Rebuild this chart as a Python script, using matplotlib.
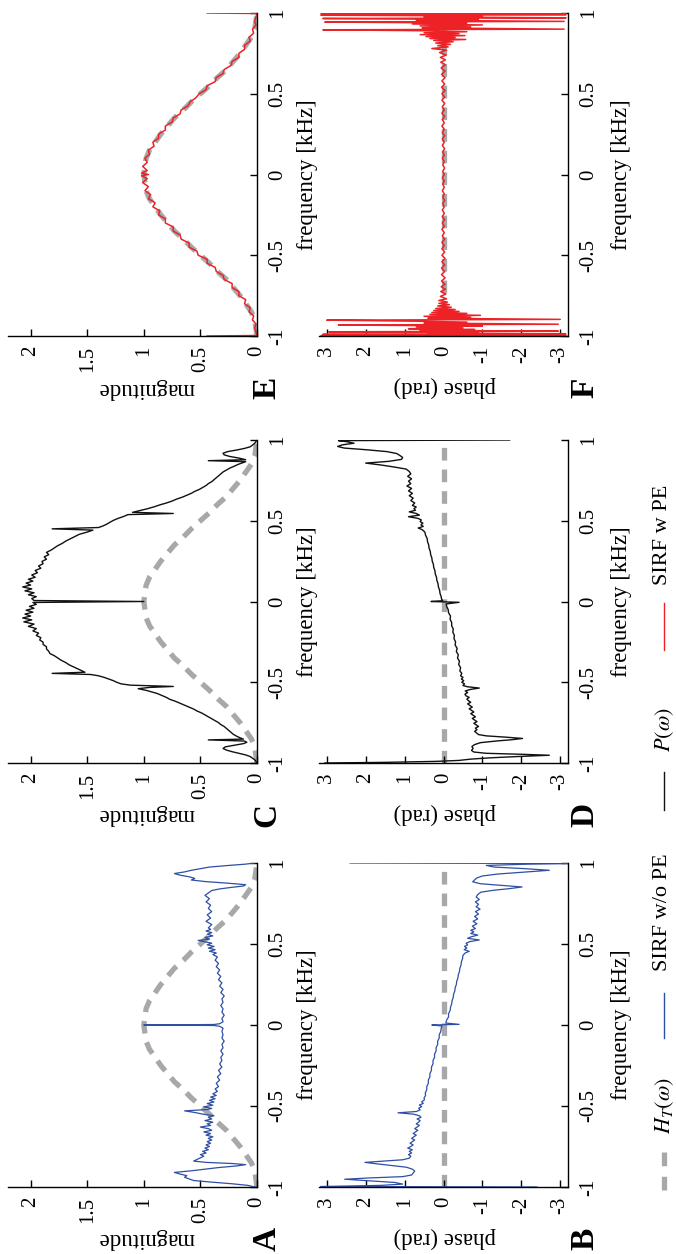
import matplotlib

matplotlib.use("Agg")
import matplotlib.pyplot as plt
from matplotlib.lines import Line2D

# -->> Data <<-------------------------

FREQ_TICKS = [-1, -0.5, 0, 0.5, 1]
FREQ_LABELS = ["-1", "-0.5", "0", "0.5", "1"]
MAG_TICKS = [0, 0.5, 1, 1.5, 2]
MAG_LABELS = ["0", "0.5", "1", "1.5", "2"]
PHASE_TICKS = [-3, -2, -1, 0, 1, 2, 3]
PHASE_LABELS = ["-3", "-2", "-1", "0", "1", "2", "3"]

# target response H_T(w), magnitude
HT_FREQ = [-1.0, -0.95, -0.9, -0.85, -0.8, -0.75, -0.7, -0.65, -0.6, -0.55, -0.5,
           -0.45, -0.4, -0.35, -0.3, -0.25, -0.2, -0.15, -0.1, -0.05, 0.0,
           0.05, 0.1, 0.15, 0.2, 0.25, 0.3, 0.35, 0.4, 0.45, 0.5,
           0.55, 0.6, 0.65, 0.7, 0.75, 0.8, 0.85, 0.9, 0.95, 1.0]
HT_MAG = [0.0, 0.01, 0.02, 0.05, 0.1, 0.15, 0.21, 0.27, 0.35, 0.42, 0.5,
          0.58, 0.65, 0.73, 0.79, 0.85, 0.9, 0.95, 0.98, 0.99, 1.0,
          0.99, 0.98, 0.95, 0.9, 0.85, 0.79, 0.73, 0.65, 0.58, 0.5,
          0.42, 0.35, 0.27, 0.21, 0.15, 0.1, 0.05, 0.02, 0.01, 0.0]
HT_PHASE_FREQ = [-1.0, 1.0]
HT_PHASE = [0.0, 0.0]

# (frequency, magnitude) of SIRF without phase estimation -- panel A
A_PTS = [
    (-1.000, 0.02), (-0.990, 0.08), (-0.980, 0.22), (-0.970, 0.40), (-0.960, 0.56),
    (-0.950, 0.60), (-0.940, 0.64), (-0.930, 0.62), (-0.920, 0.68), (-0.910, 0.73),
    (-0.900, 0.58), (-0.890, 0.46), (-0.880, 0.34), (-0.870, 0.18), (-0.862, 0.10),
    (-0.855, 0.22), (-0.848, 0.45), (-0.840, 0.56), (-0.830, 0.53), (-0.820, 0.50),
    (-0.810, 0.47), (-0.800, 0.50), (-0.790, 0.45), (-0.780, 0.48), (-0.770, 0.43),
    (-0.760, 0.46), (-0.750, 0.42), (-0.740, 0.45), (-0.730, 0.41), (-0.720, 0.44),
    (-0.710, 0.40), (-0.700, 0.43), (-0.690, 0.39), (-0.680, 0.45), (-0.670, 0.41),
    (-0.660, 0.47), (-0.650, 0.40), (-0.640, 0.43), (-0.630, 0.50), (-0.620, 0.41),
    (-0.610, 0.44), (-0.600, 0.39), (-0.590, 0.46), (-0.580, 0.40), (-0.570, 0.43),
    (-0.560, 0.38), (-0.550, 0.48), (-0.540, 0.55), (-0.530, 0.64), (-0.522, 0.44),
    (-0.515, 0.40), (-0.505, 0.47), (-0.495, 0.39), (-0.485, 0.44), (-0.475, 0.38),
    (-0.465, 0.42), (-0.455, 0.37), (-0.445, 0.41), (-0.435, 0.36), (-0.425, 0.39),
    (-0.410, 0.35), (-0.395, 0.37), (-0.380, 0.34), (-0.360, 0.36), (-0.340, 0.33),
    (-0.320, 0.35), (-0.300, 0.32), (-0.280, 0.34), (-0.260, 0.31), (-0.240, 0.33),
    (-0.220, 0.31), (-0.200, 0.32), (-0.180, 0.30), (-0.160, 0.32), (-0.140, 0.30),
    (-0.120, 0.31), (-0.100, 0.29), (-0.080, 0.31), (-0.060, 0.30), (-0.040, 0.31),
    (-0.020, 0.30), (-0.008, 0.33), (-0.003, 0.38), (0.000, 1.00), (0.003, 0.38),
    (0.008, 0.33), (0.020, 0.30), (0.040, 0.31), (0.060, 0.29), (0.080, 0.31),
    (0.100, 0.30), (0.120, 0.32), (0.140, 0.30), (0.160, 0.31), (0.180, 0.29),
    (0.200, 0.32), (0.220, 0.30), (0.240, 0.33), (0.260, 0.31), (0.280, 0.34),
    (0.300, 0.32), (0.320, 0.35), (0.340, 0.33), (0.360, 0.36), (0.380, 0.34),
    (0.400, 0.37), (0.420, 0.35), (0.435, 0.39), (0.445, 0.36), (0.455, 0.42),
    (0.465, 0.37), (0.475, 0.43), (0.485, 0.38), (0.495, 0.44), (0.505, 0.40),
    (0.515, 0.47), (0.522, 0.52), (0.530, 0.42), (0.540, 0.46), (0.550, 0.39),
    (0.560, 0.44), (0.570, 0.40), (0.580, 0.45), (0.590, 0.41), (0.600, 0.43),
    (0.620, 0.40), (0.640, 0.45), (0.660, 0.41), (0.680, 0.44), (0.700, 0.40),
    (0.720, 0.43), (0.740, 0.41), (0.760, 0.45), (0.780, 0.42), (0.800, 0.46),
    (0.815, 0.43), (0.830, 0.40), (0.840, 0.33), (0.850, 0.22), (0.858, 0.12),
    (0.866, 0.10), (0.875, 0.25), (0.885, 0.45), (0.895, 0.58), (0.905, 0.55),
    (0.915, 0.60), (0.925, 0.68), (0.935, 0.73), (0.945, 0.64), (0.955, 0.58),
    (0.965, 0.50), (0.975, 0.42), (0.985, 0.25), (0.993, 0.10), (1.000, 0.02),
]

# (frequency, magnitude) of P(w) -- panel C
C_PTS = [
    (-1.000, 0.00), (-0.990, 0.01), (-0.980, 0.02), (-0.970, 0.04), (-0.960, 0.06),
    (-0.950, 0.10), (-0.940, 0.16), (-0.930, 0.22), (-0.920, 0.27), (-0.910, 0.30),
    (-0.900, 0.28), (-0.890, 0.20), (-0.880, 0.12), (-0.872, 0.09), (-0.864, 0.11),
    (-0.857, 0.43), (-0.852, 0.12), (-0.844, 0.15), (-0.834, 0.18), (-0.822, 0.21),
    (-0.810, 0.23), (-0.798, 0.25), (-0.786, 0.27), (-0.774, 0.29), (-0.762, 0.32),
    (-0.750, 0.34), (-0.738, 0.37), (-0.726, 0.40), (-0.714, 0.43), (-0.702, 0.46),
    (-0.690, 0.49), (-0.678, 0.53), (-0.666, 0.56), (-0.654, 0.60), (-0.642, 0.64),
    (-0.630, 0.68), (-0.618, 0.72), (-0.606, 0.77), (-0.594, 0.80), (-0.582, 0.84),
    (-0.570, 0.88), (-0.560, 0.93), (-0.550, 0.98), (-0.540, 1.05), (-0.532, 0.95),
    (-0.526, 0.74), (-0.518, 1.12), (-0.510, 1.20), (-0.500, 1.24), (-0.490, 1.27),
    (-0.480, 1.31), (-0.470, 1.35), (-0.460, 1.40), (-0.452, 1.47), (-0.445, 1.81),
    (-0.438, 1.52), (-0.428, 1.55), (-0.418, 1.58), (-0.405, 1.62), (-0.392, 1.66),
    (-0.378, 1.69), (-0.364, 1.73), (-0.350, 1.76), (-0.336, 1.79), (-0.322, 1.83),
    (-0.308, 1.84), (-0.294, 1.86), (-0.280, 1.86), (-0.266, 1.89), (-0.252, 1.89),
    (-0.238, 1.92), (-0.224, 1.91), (-0.210, 1.95), (-0.196, 1.93), (-0.182, 1.98),
    (-0.168, 1.95), (-0.154, 2.02), (-0.140, 1.97), (-0.126, 2.06), (-0.114, 1.99),
    (-0.102, 2.07), (-0.090, 2.00), (-0.078, 2.05), (-0.066, 1.98), (-0.054, 2.04),
    (-0.042, 1.97), (-0.030, 2.01), (-0.018, 1.95), (-0.006, 1.98), (0.000, 1.00),
    (0.006, 1.97), (0.018, 1.99), (0.030, 1.95), (0.042, 2.02), (0.054, 1.97),
    (0.066, 2.05), (0.078, 1.99), (0.090, 2.07), (0.102, 2.00), (0.114, 2.04),
    (0.126, 1.98), (0.138, 2.02), (0.150, 1.96), (0.164, 1.99), (0.178, 1.94),
    (0.192, 1.96), (0.206, 1.91), (0.220, 1.93), (0.234, 1.89), (0.248, 1.90),
    (0.262, 1.86), (0.276, 1.88), (0.290, 1.84), (0.304, 1.86), (0.318, 1.82),
    (0.332, 1.79), (0.346, 1.76), (0.360, 1.72), (0.374, 1.69), (0.388, 1.65),
    (0.402, 1.61), (0.416, 1.57), (0.430, 1.50), (0.442, 1.45), (0.450, 1.81),
    (0.458, 1.40), (0.468, 1.36), (0.478, 1.33), (0.490, 1.30), (0.502, 1.27),
    (0.514, 1.23), (0.526, 1.18), (0.538, 1.14), (0.545, 0.74), (0.552, 1.10),
    (0.562, 1.04), (0.574, 0.97), (0.586, 0.91), (0.598, 0.86), (0.610, 0.80),
    (0.622, 0.75), (0.634, 0.71), (0.646, 0.66), (0.658, 0.62), (0.670, 0.58),
    (0.682, 0.55), (0.694, 0.51), (0.706, 0.48), (0.718, 0.45), (0.730, 0.43),
    (0.742, 0.40), (0.754, 0.38), (0.766, 0.36), (0.778, 0.34), (0.790, 0.32),
    (0.802, 0.30), (0.814, 0.27), (0.826, 0.24), (0.838, 0.20), (0.848, 0.17),
    (0.858, 0.13), (0.866, 0.10), (0.872, 0.43), (0.878, 0.10), (0.888, 0.16),
    (0.898, 0.24), (0.908, 0.29), (0.918, 0.30), (0.928, 0.26), (0.938, 0.18),
    (0.948, 0.11), (0.958, 0.06), (0.968, 0.04), (0.980, 0.02), (0.990, 0.01),
    (1.000, 0.00),
]

# (frequency, magnitude) of SIRF with phase estimation -- panel E
E_PTS = [
    (-1.000, 0.44), (-0.997, 0.00), (-0.975, 0.01), (-0.950, 0.02), (-0.925, 0.01),
    (-0.900, 0.04), (-0.875, 0.03), (-0.850, 0.07), (-0.825, 0.06), (-0.800, 0.11),
    (-0.775, 0.10), (-0.750, 0.16), (-0.725, 0.16), (-0.700, 0.22), (-0.675, 0.22),
    (-0.650, 0.29), (-0.625, 0.30), (-0.600, 0.36), (-0.575, 0.37), (-0.550, 0.44),
    (-0.525, 0.44), (-0.500, 0.52), (-0.475, 0.53), (-0.450, 0.60), (-0.425, 0.60),
    (-0.400, 0.67), (-0.375, 0.68), (-0.350, 0.74), (-0.325, 0.74), (-0.300, 0.81),
    (-0.275, 0.81), (-0.250, 0.87), (-0.225, 0.86), (-0.200, 0.92), (-0.175, 0.90),
    (-0.150, 0.96), (-0.125, 0.94), (-0.100, 0.99), (-0.075, 0.96), (-0.050, 1.01),
    (-0.025, 0.97), (-0.008, 1.02), (0.000, 0.96), (0.008, 1.02), (0.025, 0.97),
    (0.050, 1.01), (0.075, 0.97), (0.100, 0.99), (0.125, 0.95), (0.150, 0.96),
    (0.175, 0.91), (0.200, 0.92), (0.225, 0.87), (0.250, 0.87), (0.275, 0.81),
    (0.300, 0.81), (0.325, 0.75), (0.350, 0.74), (0.375, 0.68), (0.400, 0.67),
    (0.425, 0.61), (0.450, 0.59), (0.475, 0.54), (0.500, 0.51), (0.525, 0.45),
    (0.550, 0.44), (0.575, 0.37), (0.600, 0.36), (0.625, 0.30), (0.650, 0.29),
    (0.675, 0.23), (0.700, 0.22), (0.725, 0.16), (0.750, 0.16), (0.775, 0.11),
    (0.800, 0.11), (0.825, 0.06), (0.850, 0.07), (0.875, 0.03), (0.900, 0.04),
    (0.925, 0.01), (0.950, 0.02), (0.975, 0.01), (0.997, 0.00), (1.000, 0.44),
]

# (frequency, phase) of SIRF without phase estimation -- panel B
B_PTS = [
    (-1.000, -2.40), (-0.997, 3.16), (-0.990, 1.60), (-0.982, 1.05), (-0.972, 1.25),
    (-0.962, 1.90), (-0.952, 2.54), (-0.944, 1.90), (-0.936, 1.05), (-0.926, 0.82),
    (-0.914, 0.78), (-0.902, 0.74), (-0.890, 0.80), (-0.878, 0.95), (-0.866, 1.40),
    (-0.856, 1.75), (-0.848, 2.02), (-0.840, 1.55), (-0.832, 1.05), (-0.822, 0.88),
    (-0.810, 0.84), (-0.800, 0.90), (-0.790, 0.82), (-0.780, 0.88), (-0.770, 0.80),
    (-0.760, 0.92), (-0.750, 0.84), (-0.740, 0.78), (-0.730, 0.86), (-0.720, 0.80),
    (-0.710, 0.74), (-0.700, 0.82), (-0.690, 0.76), (-0.680, 0.70), (-0.670, 0.78),
    (-0.660, 0.72), (-0.650, 0.66), (-0.640, 0.74), (-0.630, 0.68), (-0.620, 0.62),
    (-0.610, 0.70), (-0.600, 0.64), (-0.590, 0.60), (-0.580, 0.68), (-0.570, 0.58),
    (-0.560, 0.62), (-0.550, 0.78), (-0.542, 1.17), (-0.534, 0.70), (-0.524, 0.60),
    (-0.514, 0.64), (-0.504, 0.56), (-0.494, 0.62), (-0.484, 0.52), (-0.474, 0.56),
    (-0.462, 0.49), (-0.450, 0.50), (-0.435, 0.46), (-0.420, 0.47), (-0.400, 0.43),
    (-0.380, 0.43), (-0.360, 0.39), (-0.340, 0.39), (-0.320, 0.35), (-0.300, 0.35),
    (-0.280, 0.31), (-0.260, 0.31), (-0.240, 0.27), (-0.220, 0.27), (-0.200, 0.23),
    (-0.180, 0.23), (-0.160, 0.19), (-0.140, 0.19), (-0.120, 0.15), (-0.100, 0.15),
    (-0.080, 0.11), (-0.060, 0.11), (-0.040, 0.07), (-0.020, 0.06), (-0.006, 0.04),
    (0.000, 0.30), (0.004, -0.40), (0.012, -0.06), (0.030, -0.08), (0.050, -0.13),
    (0.070, -0.13), (0.090, -0.17), (0.110, -0.18), (0.130, -0.21), (0.150, -0.22),
    (0.170, -0.25), (0.190, -0.26), (0.210, -0.29), (0.230, -0.30), (0.250, -0.33),
    (0.270, -0.34), (0.290, -0.37), (0.310, -0.38), (0.330, -0.41), (0.350, -0.42),
    (0.370, -0.45), (0.390, -0.46), (0.410, -0.49), (0.430, -0.50), (0.445, -0.56),
    (0.455, -0.66), (0.465, -0.53), (0.475, -0.60), (0.485, -0.54), (0.495, -0.62),
    (0.505, -0.58), (0.515, -0.68), (0.525, -0.92), (0.535, -0.62), (0.545, -0.72),
    (0.555, -0.88), (0.565, -0.70), (0.575, -0.78), (0.585, -0.70), (0.595, -0.82),
    (0.610, -0.74), (0.625, -0.86), (0.640, -0.76), (0.655, -0.88), (0.670, -0.80),
    (0.685, -0.90), (0.700, -0.82), (0.715, -0.94), (0.730, -0.84), (0.745, -0.90),
    (0.760, -0.82), (0.775, -0.92), (0.790, -0.84), (0.805, -0.88), (0.820, -0.96),
    (0.832, -1.30), (0.842, -1.70), (0.852, -2.02), (0.862, -1.50), (0.872, -0.95),
    (0.884, -0.75), (0.896, -0.80), (0.908, -0.86), (0.920, -1.00), (0.932, -1.40),
    (0.944, -2.10), (0.955, -2.72), (0.965, -2.10), (0.975, -1.30), (0.985, -1.10),
    (0.993, -2.20), (0.997, -3.24), (1.000, 2.40),
]

# (frequency, phase) of P(w) -- panel D
D_PTS = [
    (-1.000, 3.05), (-0.996, 1.50), (-0.990, 0.20), (-0.984, -0.40), (-0.976, -0.70),
    (-0.968, -1.20), (-0.960, -1.90), (-0.952, -2.72), (-0.946, -2.00), (-0.940, -1.10),
    (-0.932, -0.78), (-0.922, -0.72), (-0.910, -0.76), (-0.898, -0.73), (-0.886, -0.80),
    (-0.874, -0.95), (-0.864, -1.35), (-0.856, -1.75), (-0.848, -2.03), (-0.840, -1.60),
    (-0.832, -1.10), (-0.824, -0.90), (-0.814, -0.85), (-0.804, -0.80), (-0.794, -0.86),
    (-0.784, -0.82), (-0.774, -0.90), (-0.764, -0.84), (-0.754, -0.78), (-0.744, -0.86),
    (-0.734, -0.80), (-0.724, -0.74), (-0.714, -0.82), (-0.704, -0.76), (-0.694, -0.70),
    (-0.684, -0.78), (-0.674, -0.72), (-0.664, -0.66), (-0.654, -0.74), (-0.644, -0.68),
    (-0.634, -0.62), (-0.624, -0.70), (-0.614, -0.64), (-0.604, -0.60), (-0.594, -0.66),
    (-0.584, -0.58), (-0.574, -0.55), (-0.564, -0.62), (-0.554, -0.56), (-0.544, -0.70),
    (-0.536, -0.92), (-0.528, -0.62), (-0.520, -0.50), (-0.510, -0.54), (-0.500, -0.47),
    (-0.490, -0.52), (-0.480, -0.46), (-0.470, -0.50), (-0.460, -0.44), (-0.445, -0.47),
    (-0.430, -0.42), (-0.410, -0.44), (-0.390, -0.39), (-0.370, -0.41), (-0.350, -0.36),
    (-0.330, -0.38), (-0.310, -0.33), (-0.290, -0.35), (-0.270, -0.30), (-0.250, -0.31),
    (-0.230, -0.27), (-0.210, -0.28), (-0.190, -0.24), (-0.170, -0.25), (-0.150, -0.21),
    (-0.130, -0.21), (-0.110, -0.17), (-0.090, -0.18), (-0.070, -0.13), (-0.050, -0.12),
    (-0.030, -0.08), (-0.015, -0.07), (-0.005, -0.40), (0.000, 0.32), (0.005, 0.02),
    (0.015, 0.05), (0.030, 0.06), (0.050, 0.09), (0.070, 0.10), (0.090, 0.13),
    (0.110, 0.14), (0.130, 0.17), (0.150, 0.18), (0.170, 0.21), (0.190, 0.22),
    (0.210, 0.25), (0.230, 0.26), (0.250, 0.29), (0.270, 0.30), (0.290, 0.33),
    (0.310, 0.34), (0.330, 0.37), (0.350, 0.38), (0.370, 0.41), (0.390, 0.42),
    (0.410, 0.46), (0.430, 0.48), (0.445, 0.55), (0.455, 0.65), (0.465, 0.52),
    (0.475, 0.58), (0.485, 0.53), (0.495, 0.60), (0.505, 0.57), (0.515, 0.66),
    (0.525, 0.90), (0.535, 0.62), (0.545, 0.70), (0.555, 0.88), (0.565, 0.72),
    (0.575, 0.76), (0.585, 0.70), (0.595, 0.80), (0.610, 0.74), (0.625, 0.84),
    (0.640, 0.78), (0.655, 0.88), (0.670, 0.80), (0.685, 0.90), (0.700, 0.82),
    (0.715, 0.94), (0.730, 0.84), (0.745, 0.90), (0.760, 0.82), (0.775, 0.92),
    (0.790, 0.84), (0.805, 0.88), (0.820, 0.96), (0.832, 1.25), (0.845, 1.60),
    (0.857, 2.00), (0.868, 1.40), (0.880, 1.08), (0.892, 1.05), (0.904, 1.12),
    (0.916, 1.20), (0.928, 1.45), (0.940, 2.00), (0.950, 2.55), (0.960, 2.72),
    (0.970, 2.60), (0.980, 2.30), (0.990, 2.50), (0.996, 2.70), (1.000, -1.70),
]

# (frequency, phase) of SIRF with phase estimation -- panel F
F_PTS = [
    (-1.000, 0.00), (-0.998, 3.15), (-0.994, -3.15), (-0.990, 3.10), (-0.986, -3.14),
    (-0.982, 0.40), (-0.978, -0.90), (-0.974, 2.95), (-0.970, -2.95), (-0.965, 0.60),
    (-0.960, -0.80), (-0.955, 0.90), (-0.950, -0.50), (-0.944, 0.70), (-0.938, -1.00),
    (-0.932, 2.70), (-0.927, -2.95), (-0.920, 0.50), (-0.914, -0.60), (-0.908, 0.80),
    (-0.902, 3.00), (-0.897, -3.00), (-0.890, 0.40), (-0.884, -0.70), (-0.878, 0.50),
    (-0.872, -0.95), (-0.866, 0.35), (-0.860, -0.60), (-0.854, 0.30), (-0.848, -0.40),
    (-0.842, 0.25), (-0.836, -0.30), (-0.830, 0.20), (-0.822, -0.20), (-0.814, 0.15),
    (-0.806, -0.15), (-0.798, 0.12), (-0.790, -0.10), (-0.780, 0.12), (-0.770, -0.08),
    (-0.755, 0.08), (-0.740, -0.06), (-0.725, 0.07), (-0.710, -0.05), (-0.695, 0.06),
    (-0.680, -0.04), (-0.660, 0.05), (-0.640, -0.04), (-0.620, 0.05), (-0.600, -0.03),
    (-0.580, 0.05), (-0.560, -0.03), (-0.540, 0.04), (-0.520, -0.04), (-0.500, 0.04),
    (-0.480, -0.03), (-0.460, 0.04), (-0.440, -0.02), (-0.420, 0.04), (-0.400, -0.03),
    (-0.380, 0.03), (-0.360, -0.02), (-0.340, 0.04), (-0.320, -0.02), (-0.300, 0.03),
    (-0.280, -0.03), (-0.260, 0.03), (-0.240, -0.02), (-0.220, 0.03), (-0.200, -0.02),
    (-0.180, 0.02), (-0.160, -0.03), (-0.140, 0.02), (-0.120, -0.02), (-0.100, 0.03),
    (-0.080, -0.02), (-0.060, 0.02), (-0.040, -0.02), (-0.020, 0.03), (0.000, -0.02),
    (0.020, 0.02), (0.040, -0.03), (0.060, 0.02), (0.080, -0.02), (0.100, 0.03),
    (0.120, -0.02), (0.140, 0.02), (0.160, -0.03), (0.180, 0.03), (0.200, -0.02),
    (0.220, 0.03), (0.240, -0.03), (0.260, 0.03), (0.280, -0.02), (0.300, 0.04),
    (0.320, -0.02), (0.340, 0.03), (0.360, -0.03), (0.380, 0.04), (0.400, -0.02),
    (0.420, 0.03), (0.440, -0.03), (0.460, 0.04), (0.480, -0.03), (0.500, 0.04),
    (0.520, -0.04), (0.540, 0.05), (0.560, -0.03), (0.580, 0.04), (0.600, -0.04),
    (0.620, 0.05), (0.640, -0.04), (0.660, 0.06), (0.680, -0.05), (0.695, 0.07),
    (0.710, -0.05), (0.725, 0.08), (0.740, -0.07), (0.755, 0.10), (0.770, -0.08),
    (0.780, 0.30), (0.790, -0.12), (0.798, 0.15), (0.806, -0.18), (0.814, 0.20),
    (0.822, -0.25), (0.830, 0.25), (0.836, -0.57), (0.842, 0.35), (0.848, -0.30),
    (0.854, 0.45), (0.860, -0.55), (0.866, 0.60), (0.872, -0.40), (0.878, 0.50),
    (0.884, -0.60), (0.890, 0.40), (0.896, 3.10), (0.900, -3.10), (0.908, 0.55),
    (0.914, -0.70), (0.920, 0.60), (0.926, -1.00), (0.932, 0.80), (0.938, -0.60),
    (0.944, 3.05), (0.948, -3.10), (0.955, 0.70), (0.960, -0.90), (0.966, 3.10),
    (0.970, -3.15), (0.976, 0.50), (0.982, -1.00), (0.986, 3.15), (0.990, -3.15),
    (0.994, 3.15), (0.998, -3.15), (1.000, 0.00),
]

# -->> Layout (pixels of the 676 x 1254 picture) <<---

W, H = 676, 1254
GRAY = "#a7a8aa"
BLUE = "#2f4fa5"
RED = "#ec2227"
BLACK = "#111111"

COL_X = [(8, 257), (319, 568)]
ROW_Y = [(13, 336), (440, 763), (863, 1187)]


def fx(px):
    return px / W


def fy(py):
    return 1 - py / H


def make_axes(fig, col, row):
    x0, x1 = COL_X[col]
    y0, y1 = ROW_Y[row]
    return fig.add_axes([fx(x0), fy(y1), (x1 - x0) / W, (y1 - y0) / H])


def style_axes(ax, xlim, xticks, xlabels):
    ax.set_facecolor("none")
    ax.set_xlim(*xlim)
    ax.set_ylim(-1, 1)
    ax.spines["top"].set_visible(False)
    ax.spines["left"].set_visible(False)
    for s in ("bottom", "right"):
        ax.spines[s].set_linewidth(1.0)
    ax.yaxis.tick_right()
    ax.set_xticks(xticks)
    ax.set_xticklabels(xlabels, rotation=90)
    ax.set_yticks(FREQ_TICKS)
    ax.set_yticklabels(FREQ_LABELS, rotation=90, va="center")
    ax.tick_params(direction="in", length=5, width=1.0, labelsize=15)
    ax.tick_params(axis="x", pad=7)
    ax.tick_params(axis="y", pad=8)


def split(pts):
    freq = [p[0] for p in pts]
    val = [p[1] for p in pts]
    return freq, val


def dashed_gray(ax, x, y):
    ax.plot(x, y, color=GRAY, lw=3.8, dashes=(2.4, 1.7), solid_capstyle="butt",
            dash_capstyle="butt", zorder=1)


plt.rcParams["font.family"] = ["Liberation Serif", "DejaVu Serif"]
plt.rcParams["mathtext.fontset"] = "stix"

fig = plt.figure(figsize=(W / 100, H / 100), dpi=100)

mag_panels = [(E_PTS, RED, 1.1, "E"), (C_PTS, BLACK, 1.0, "C"), (A_PTS, BLUE, 0.9, "A")]
phase_panels = [(F_PTS, RED, 1.1, "F"), (D_PTS, BLACK, 1.0, "D"), (B_PTS, BLUE, 0.9, "B")]

for row, (pts, color, lw, letter) in enumerate(mag_panels):
    ax = make_axes(fig, 0, row)
    style_axes(ax, (2.2, 0), MAG_TICKS, MAG_LABELS)
    dashed_gray(ax, HT_MAG, HT_FREQ)
    f, v = split(pts)
    ax.plot(v, f, color=color, lw=lw, zorder=2)
    y0, y1 = ROW_Y[row]
    fig.text(fx(146), fy(y1 + 52), "magnitude", rotation=180, fontsize=16.5,
             ha="center", va="center")
    fig.text(fx(307), fy((y0 + y1) / 2), "frequency [kHz]", rotation=90,
             fontsize=16.5, ha="center", va="center")
    fig.text(fx(267), fy(y1 + 52), letter, rotation=90, fontsize=24,
             fontweight="bold", ha="center", va="center")

for row, (pts, color, lw, letter) in enumerate(phase_panels):
    ax = make_axes(fig, 1, row)
    style_axes(ax, (3.2, -3.2), PHASE_TICKS, PHASE_LABELS)
    dashed_gray(ax, HT_PHASE, HT_PHASE_FREQ)
    f, v = split(pts)
    ax.plot(v, f, color=color, lw=lw, zorder=2)
    y0, y1 = ROW_Y[row]
    fig.text(fx(445), fy(y1 + 51), "phase (rad)", rotation=180, fontsize=16.5,
             ha="center", va="center")
    fig.text(fx(621), fy((y0 + y1) / 2), "frequency [kHz]", rotation=90,
             fontsize=16.5, ha="center", va="center")
    fig.text(fx(585), fy(y1 + 52), letter, rotation=90, fontsize=24,
             fontweight="bold", ha="center", va="center")

# Legend, drawn by hand because it reads bottom to top
LEG_X = 664
legend_items = [
    (r"$H_T(\omega)$", GRAY, (1190, 1147), 1106, True),
    ("SIRF w/o PE", BLUE, (1038, 993), 912, False),
    (r"$P(\omega)$", BLACK, (810, 772), 730, False),
    ("SIRF w PE", RED, (650, 603), 535, False),
]
for label, color, (ya, yb), ytxt, dashed in legend_items:
    if dashed:
        fig.add_artist(Line2D([fx(LEG_X)] * 2, [fy(ya), fy(yb)], transform=fig.transFigure,
                              color=color, lw=3.8, dashes=(2.6, 2.0)))
    else:
        fig.add_artist(Line2D([fx(LEG_X)] * 2, [fy(ya), fy(yb)], transform=fig.transFigure,
                              color=color, lw=1.0))
    fig.text(fx(653), fy(ytxt), label, rotation=90, fontsize=16,
             ha="left", va="center")

fig.savefig("out.png", dpi=100)
